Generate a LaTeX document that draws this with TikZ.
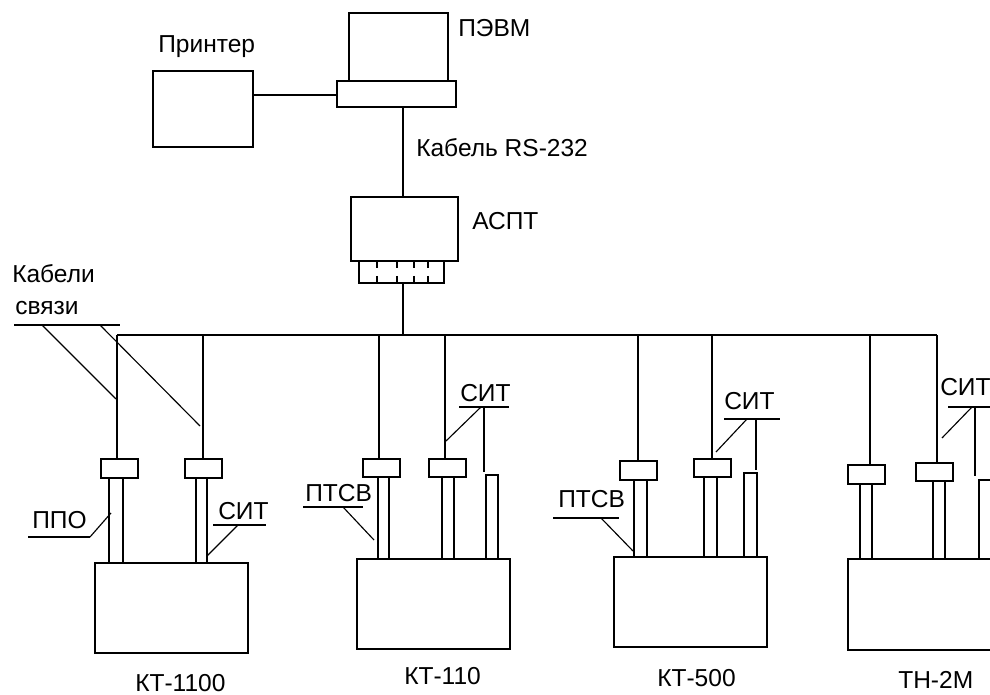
\documentclass[tikz,border=0pt]{standalone}
\usepackage{fontspec}
\setmainfont{Liberation Sans}
\newcommand{\px}{0.75pt}
\begin{document}
\begin{tikzpicture}[
  x=0.75pt, y=-0.75pt,
  part/.style={draw, line width=1.35pt, outer sep=0pt, inner sep=0pt, anchor=north west},
  sized/.style 2 args={minimum width=#1*\px, minimum height=#2*\px},
  lbl/.style={anchor=base west, inner sep=0pt, font=\fontsize{18.4}{21}\selectfont},
  wire/.style={line width=1.35pt},
  lead/.style={line width=0.85pt}
]
  \clip (0,0) rectangle (990,695);
  % top group
  \node[part, sized={99}{68}] (pc) at (349,13) {};
  \node[part, sized={119}{26}] (pcbase) at (337,81) {};
  \node[part, sized={100}{76}] (printer) at (153,71) {};
  \node[part, sized={107}{64}] (aspt) at (351,197) {};
  \node[part, sized={85}{22}] (plug) at (359,261) {};
  \coordinate (busL) at (117,335);
  \coordinate (busR) at (937,335);
  \draw[wire] (printer.east |- 0,95) -- (pcbase.west |- 0,95);
  \draw[wire] (403,107) -- (403,197);
  \draw[wire] (403,283) -- (403,335);
  \draw[wire] (busL) -- (busR);
  \foreach \t in {377,397,414,428} {
    \draw[wire] (\t,261) -- (\t,268.5);
    \draw[wire] (\t,276) -- (\t,283);
  }
  % units
  \node[part, sized={153}{90}] (kta) at (95,563) {};
  \node[part, sized={153}{90}] (ktb) at (357,559) {};
  \node[part, sized={153}{90}] (ktc) at (614,557) {};
  \node[part, sized={153}{91}] (tn) at (848,559) {};
  % adapters on the drops
  \node[part, sized={37}{19}] (ad1) at (101,459) {};
  \node[part, sized={37}{19}] (ad2) at (185,459) {};
  \node[part, sized={37}{18}] (ad3) at (363,459) {};
  \node[part, sized={37}{18}] (ad4) at (429,459) {};
  \node[part, sized={37}{19}] (ad5) at (620,461) {};
  \node[part, sized={37}{18}] (ad6) at (694,459) {};
  \node[part, sized={37}{19}] (ad7) at (848,465) {};
  \node[part, sized={37}{18}] (ad8) at (916,463) {};
  \foreach \ad/\unit/\da/\ta/\tb in {ad1/kta/-2.5/-10.5/3.5, ad2/kta/-0.5/-7.5/3.5, ad3/ktb/-2.5/-3.5/7.5,
      ad4/ktb/-2.5/-5.5/6.5, ad5/ktc/-0.5/-4.5/8.5, ad6/ktc/-0.5/-8.5/4.5,
      ad7/tn/3.5/-6.5/5.5, ad8/tn/2.5/-1.5/10.5} {
    \draw[wire] ([xshift=\da*\px]\ad.north) -- ([xshift=\da*\px]\ad.north |- busL);
    \draw[wire] ([xshift=\ta*\px]\ad.south) -- ([xshift=\ta*\px]\ad.south |- \unit.north);
    \draw[wire] ([xshift=\tb*\px]\ad.south) -- ([xshift=\tb*\px]\ad.south |- \unit.north);
  }
  % free standing sensors
  \node[part, sized={12}{84}] (sensa) at (486,475) {};
  \node[part, sized={13}{84}] (sensb) at (744,473) {};
  \node[part, sized={13}{79}] (sensc) at (979,480) {};
  \foreach \i/\x/\ya/\yb in {a/484/407/472, b/756/419/470, c/975/407/476} {
    \coordinate (s\i top) at (\x,\ya);
    \coordinate (s\i bot) at (\x,\yb);
    \draw[wire] (s\i top) -- (s\i bot);
  }
  % leaders
  \foreach \i/\xa/\xb/\yu/\xs/\xe/\ye in {1/14/120/325/42/116/399, 2/14/120/325/100/200/426,
      3/28/90/537/90/111/513, 4/213/266/525/238/207/556, 5/303/363/507/343/374/540,
      6/459/509/407/481/446/441, 7/553/619/518/601/633/551, 8/724/780/419/747/716/452,
      9/948/990/407/972/942/438} {
    \coordinate (ul\i) at (\xa,\yu);
    \coordinate (ur\i) at (\xb,\yu);
    \coordinate (ls\i) at (\xs,\yu);
    \coordinate (le\i) at (\xe,\ye);
    \draw[lead] (ul\i) -- (ur\i);
    \draw[lead] (ls\i) -- (le\i);
  }
  % texts
  \node[lbl] (tprinter) at (158,53) {Принтер};
  \node[lbl] (tpc) at (458,37) {ПЭВМ};
  \node[lbl] (tcable) at (416,157) {Кабель RS-232};
  \node[lbl] (taspt) at (472,230) {АСПТ};
  \node[lbl] (tcab) at (12,283) {Кабели};
  \node[lbl] (tsv) at (15,315) {связи};
  \node[lbl] (tppo) at (32,528) {ППО};
  \node[lbl] (tsit1) at (218,519) {СИТ};
  \node[lbl] (tptsv1) at (305,502) {ПТСВ};
  \node[lbl] (tsit2) at (460,402) {СИТ};
  \node[lbl] (tptsv2) at (558,508) {ПТСВ};
  \node[lbl] (tsit3) at (724,410) {СИТ};
  \node[lbl] (tsit4) at (940,396) {СИТ};
  \node[lbl] (tkta) at (135,691) {КТ-1100};
  \node[lbl] (tktb) at (404,684) {КТ-110};
  \node[lbl] (tktc) at (657,686) {КТ-500};
  \node[lbl] (ttn) at (898,688) {ТН-2М};
\end{tikzpicture}
\end{document}
